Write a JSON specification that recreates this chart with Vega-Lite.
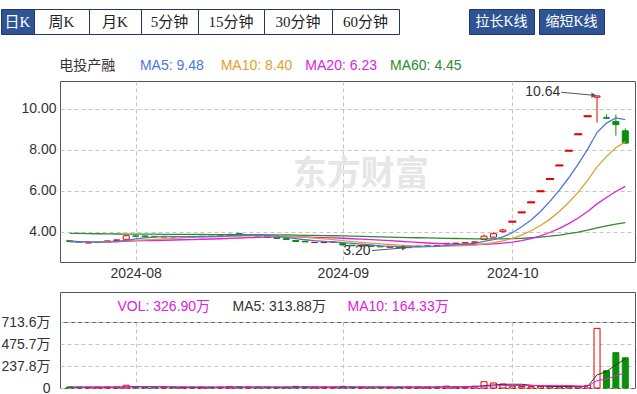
{
"$schema": "https://vega.github.io/schema/vega-lite/v6.json",
"padding": {"left": 0, "top": 8, "right": 0, "bottom": 0},
"background": "white",
"config": {
  "font": "Liberation Sans, Noto Sans CJK SC",
  "view": {"stroke": null},
  "axis": {"domain": false, "ticks": false, "labelFontSize": 14, "labelColor": "#333333", "labelFont": "Liberation Sans, Noto Sans CJK SC", "gridColor": "#c4c4c4", "gridDash": [4, 3], "gridWidth": 1, "labelOverlap": false},
  "concat": {"spacing": 0}
},
"datasets": {
"k": [
{"i":0,"o":3.56,"h":3.58,"l":3.50,"c":3.52,"v":12,"m5":3.52,"m10":3.52,"m20":3.52,"m60":3.92,"vm5":10.4,"vm10":10.2},
{"i":1,"o":3.49,"h":3.50,"l":3.47,"c":3.48,"v":9,"m5":3.512,"m10":3.516,"m20":3.518,"m60":3.912,"vm5":10.2,"vm10":10.1},
{"i":2,"o":3.45,"h":3.47,"l":3.44,"c":3.46,"v":8,"m5":3.50,"m10":3.51,"m20":3.515,"m60":3.905,"vm5":9.8,"vm10":9.9},
{"i":3,"o":3.47,"h":3.50,"l":3.46,"c":3.49,"v":9,"m5":3.494,"m10":3.507,"m20":3.514,"m60":3.897,"vm5":9.6,"vm10":9.8},
{"i":4,"o":3.50,"h":3.56,"l":3.49,"c":3.55,"v":10,"m5":3.50,"m10":3.51,"m20":3.515,"m60":3.891,"vm5":9.6,"vm10":9.8},
{"i":5,"o":3.56,"h":3.62,"l":3.54,"c":3.60,"v":11,"m5":3.516,"m10":3.518,"m20":3.519,"m60":3.886,"vm5":9.4,"vm10":9.9},
{"i":6,"o":3.63,"h":3.84,"l":3.62,"c":3.80,"v":30,"m5":3.58,"m10":3.546,"m20":3.533,"m60":3.883,"vm5":13.6,"vm10":11.9},
{"i":7,"o":3.79,"h":3.82,"l":3.75,"c":3.78,"v":14,"m5":3.644,"m10":3.572,"m20":3.546,"m60":3.881,"vm5":14.8,"vm10":12.3},
{"i":8,"o":3.79,"h":3.80,"l":3.74,"c":3.76,"v":10,"m5":3.698,"m10":3.596,"m20":3.558,"m60":3.878,"vm5":15,"vm10":12.3},
{"i":9,"o":3.77,"h":3.78,"l":3.73,"c":3.75,"v":9,"m5":3.738,"m10":3.619,"m20":3.570,"m60":3.875,"vm5":14.8,"vm10":12.2},
{"i":10,"o":3.74,"h":3.77,"l":3.73,"c":3.76,"v":8,"m5":3.77,"m10":3.643,"m20":3.582,"m60":3.872,"vm5":14.2,"vm10":11.8},
{"i":11,"o":3.77,"h":3.78,"l":3.73,"c":3.74,"v":9,"m5":3.758,"m10":3.669,"m20":3.593,"m60":3.869,"vm5":10,"vm10":11.8},
{"i":12,"o":3.74,"h":3.77,"l":3.73,"c":3.76,"v":8,"m5":3.754,"m10":3.699,"m20":3.605,"m60":3.866,"vm5":8.8,"vm10":11.8},
{"i":13,"o":3.77,"h":3.78,"l":3.74,"c":3.75,"v":8,"m5":3.752,"m10":3.725,"m20":3.616,"m60":3.863,"vm5":8.4,"vm10":11.7},
{"i":14,"o":3.75,"h":3.78,"l":3.74,"c":3.77,"v":9,"m5":3.756,"m10":3.747,"m20":3.629,"m60":3.861,"vm5":8.4,"vm10":11.6},
{"i":15,"o":3.78,"h":3.79,"l":3.75,"c":3.76,"v":8,"m5":3.756,"m10":3.763,"m20":3.641,"m60":3.858,"vm5":8.4,"vm10":11.3},
{"i":16,"o":3.76,"h":3.81,"l":3.75,"c":3.80,"v":10,"m5":3.768,"m10":3.763,"m20":3.655,"m60":3.856,"vm5":8.6,"vm10":9.3},
{"i":17,"o":3.81,"h":3.90,"l":3.80,"c":3.87,"v":14,"m5":3.79,"m10":3.772,"m20":3.672,"m60":3.855,"vm5":9.8,"vm10":9.3},
{"i":18,"o":3.91,"h":3.93,"l":3.86,"c":3.88,"v":12,"m5":3.816,"m10":3.784,"m20":3.69,"m60":3.854,"vm5":10.6,"vm10":9.5},
{"i":19,"o":3.82,"h":3.86,"l":3.81,"c":3.84,"v":10,"m5":3.83,"m10":3.793,"m20":3.706,"m60":3.852,"vm5":10.8,"vm10":9.6},
{"i":20,"o":3.83,"h":3.84,"l":3.77,"c":3.78,"v":9,"m5":3.834,"m10":3.795,"m20":3.719,"m60":3.850,"vm5":11,"vm10":9.7},
{"i":21,"o":3.77,"h":3.78,"l":3.71,"c":3.72,"v":9,"m5":3.818,"m10":3.793,"m20":3.731,"m60":3.846,"vm5":10.8,"vm10":9.7},
{"i":22,"o":3.71,"h":3.72,"l":3.66,"c":3.67,"v":8,"m5":3.778,"m10":3.784,"m20":3.742,"m60":3.842,"vm5":9.6,"vm10":9.7},
{"i":23,"o":3.66,"h":3.67,"l":3.61,"c":3.62,"v":9,"m5":3.726,"m10":3.771,"m20":3.748,"m60":3.837,"vm5":9,"vm10":9.8},
{"i":24,"o":3.57,"h":3.58,"l":3.51,"c":3.52,"v":18,"m5":3.662,"m10":3.746,"m20":3.747,"m60":3.830,"vm5":10.6,"vm10":10.7},
{"i":25,"o":3.53,"h":3.54,"l":3.49,"c":3.50,"v":12,"m5":3.606,"m10":3.72,"m20":3.742,"m60":3.823,"vm5":11.2,"vm10":11.1},
{"i":26,"o":3.47,"h":3.50,"l":3.46,"c":3.48,"v":9,"m5":3.558,"m10":3.688,"m20":3.726,"m60":3.815,"vm5":11.2,"vm10":11},
{"i":27,"o":3.47,"h":3.50,"l":3.46,"c":3.49,"v":8,"m5":3.522,"m10":3.65,"m20":3.711,"m60":3.808,"vm5":11.2,"vm10":10.4},
{"i":28,"o":3.48,"h":3.51,"l":3.46,"c":3.49,"v":8,"m5":3.496,"m10":3.611,"m20":3.698,"m60":3.801,"vm5":11,"vm10":10},
{"i":29,"o":3.42,"h":3.43,"l":3.34,"c":3.35,"v":18,"m5":3.462,"m10":3.562,"m20":3.678,"m60":3.791,"vm5":11,"vm10":10.8},
{"i":30,"o":3.34,"h":3.35,"l":3.30,"c":3.31,"v":10,"m5":3.424,"m10":3.515,"m20":3.655,"m60":3.781,"vm5":10.6,"vm10":10.9},
{"i":31,"o":3.30,"h":3.34,"l":3.29,"c":3.32,"v":9,"m5":3.392,"m10":3.475,"m20":3.634,"m60":3.770,"vm5":10.6,"vm10":10.9},
{"i":32,"o":3.31,"h":3.32,"l":3.27,"c":3.28,"v":8,"m5":3.35,"m10":3.436,"m20":3.61,"m60":3.760,"vm5":10.6,"vm10":10.9},
{"i":33,"o":3.28,"h":3.29,"l":3.25,"c":3.26,"v":9,"m5":3.304,"m10":3.40,"m20":3.586,"m60":3.748,"vm5":10.8,"vm10":10.9},
{"i":34,"o":3.24,"h":3.28,"l":3.23,"c":3.26,"v":10,"m5":3.286,"m10":3.374,"m20":3.56,"m60":3.737,"vm5":9.2,"vm10":10.1},
{"i":35,"o":3.26,"h":3.27,"l":3.21,"c":3.22,"v":11,"m5":3.268,"m10":3.346,"m20":3.533,"m60":3.725,"vm5":9.4,"vm10":10},
{"i":36,"o":3.22,"h":3.26,"l":3.20,"c":3.24,"v":12,"m5":3.252,"m10":3.322,"m20":3.505,"m60":3.714,"vm5":10,"vm10":10.3},
{"i":37,"o":3.27,"h":3.31,"l":3.26,"c":3.30,"v":10,"m5":3.256,"m10":3.303,"m20":3.477,"m60":3.703,"vm5":10.4,"vm10":10.5},
{"i":38,"o":3.29,"h":3.32,"l":3.28,"c":3.31,"v":9,"m5":3.266,"m10":3.285,"m20":3.448,"m60":3.693,"vm5":10.4,"vm10":10.6},
{"i":39,"o":3.30,"h":3.33,"l":3.29,"c":3.32,"v":10,"m5":3.278,"m10":3.282,"m20":3.422,"m60":3.683,"vm5":10.4,"vm10":9.8},
{"i":40,"o":3.40,"h":3.44,"l":3.39,"c":3.43,"v":20,"m5":3.32,"m10":3.294,"m20":3.405,"m60":3.675,"vm5":12.2,"vm10":10.8},
{"i":41,"o":3.42,"h":3.45,"l":3.41,"c":3.44,"v":10,"m5":3.36,"m10":3.306,"m20":3.391,"m60":3.666,"vm5":11.8,"vm10":10.9},
{"i":42,"o":3.44,"h":3.47,"l":3.43,"c":3.46,"v":12,"m5":3.392,"m10":3.324,"m20":3.38,"m60":3.659,"vm5":12.2,"vm10":11.3},
{"i":43,"o":3.48,"h":3.52,"l":3.47,"c":3.50,"v":20,"m5":3.43,"m10":3.348,"m20":3.374,"m60":3.651,"vm5":14.4,"vm10":12.4},
{"i":44,"o":3.62,"h":3.86,"l":3.61,"c":3.78,"v":68,"m5":3.522,"m10":3.40,"m20":3.387,"m60":3.649,"vm5":26,"vm10":18.2},
{"i":45,"o":3.73,"h":3.97,"l":3.72,"c":3.90,"v":54,"m5":3.616,"m10":3.468,"m20":3.407,"m60":3.648,"vm5":32.8,"vm10":22.5},
{"i":46,"o":4.00,"h":4.14,"l":3.96,"c":4.08,"v":43,"m5":3.744,"m10":3.552,"m20":3.437,"m60":3.651,"vm5":39.4,"vm10":25.6},
{"i":47,"o":4.49,"h":4.49,"l":4.49,"c":4.49,"v":20,"m5":3.95,"m10":3.671,"m20":3.487,"m60":3.660,"vm5":41,"vm10":26.6},
{"i":48,"o":4.94,"h":4.94,"l":4.94,"c":4.94,"v":16,"m5":4.238,"m10":3.834,"m20":3.56,"m60":3.677,"vm5":40.2,"vm10":27.3},
{"i":49,"o":5.43,"h":5.43,"l":5.43,"c":5.43,"v":15,"m5":4.568,"m10":4.045,"m20":3.664,"m60":3.702,"vm5":29.6,"vm10":27.8},
{"i":50,"o":5.97,"h":5.97,"l":5.97,"c":5.97,"v":18,"m5":4.982,"m10":4.299,"m20":3.797,"m60":3.736,"vm5":22.4,"vm10":27.6},
{"i":51,"o":6.57,"h":6.57,"l":6.57,"c":6.57,"v":15,"m5":5.48,"m10":4.612,"m20":3.959,"m60":3.78,"vm5":16.8,"vm10":28.1},
{"i":52,"o":7.23,"h":7.23,"l":7.23,"c":7.23,"v":14,"m5":6.028,"m10":4.989,"m20":4.157,"m60":3.835,"vm5":15.6,"vm10":28.3},
{"i":53,"o":7.95,"h":7.95,"l":7.95,"c":7.95,"v":14,"m5":6.63,"m10":5.434,"m20":4.391,"m60":3.902,"vm5":15.2,"vm10":27.7},
{"i":54,"o":8.75,"h":8.75,"l":8.75,"c":8.75,"v":13,"m5":7.294,"m10":5.931,"m20":4.666,"m60":3.982,"vm5":14.8,"vm10":22.2},
{"i":55,"o":9.63,"h":9.63,"l":9.63,"c":9.63,"v":28,"m5":8.026,"m10":6.504,"m20":4.986,"m60":4.077,"vm5":16.8,"vm10":19.6},
{"i":56,"o":10.56,"h":10.64,"l":9.32,"c":10.62,"v":645,"m5":8.836,"m10":7.158,"m20":5.355,"m60":4.189,"vm5":142.8,"vm10":79.8},
{"i":57,"o":9.56,"h":9.72,"l":9.52,"c":9.53,"v":187,"m5":9.296,"m10":7.662,"m20":5.667,"m60":4.282,"vm5":177.4,"vm10":96.5},
{"i":58,"o":9.37,"h":9.71,"l":8.68,"c":9.22,"v":382,"m5":9.55,"m10":8.09,"m20":5.962,"m60":4.370,"vm5":251,"vm10":133.1},
{"i":59,"o":8.92,"h":9.04,"l":8.30,"c":8.32,"v":327,"m5":9.464,"m10":8.379,"m20":6.212,"m60":4.444,"vm5":313.8,"vm10":164.3}
]
},
"spacing": 16,
"resolve": {"scale": {"x": "independent", "y": "independent"}},
"vconcat": [
  {"hconcat": [
    {"width": 33, "height": 25, "view": {"fill": "#2f5496", "stroke": "#1f3864"}, "data": {"values": [{"t": "日K"}]}, "mark": {"type": "text", "fontSize": 15, "font": "Liberation Serif, Noto Sans CJK SC", "color": "#ffffff"}, "encoding": {"text": {"field": "t"}}},
    {"width": 55, "height": 25, "view": {"fill": "#ffffff", "stroke": "#1f3864"}, "data": {"values": [{"t": "周K"}]}, "mark": {"type": "text", "fontSize": 15, "font": "Liberation Serif, Noto Sans CJK SC", "color": "#222222"}, "encoding": {"text": {"field": "t"}}},
    {"width": 52, "height": 25, "view": {"fill": "#ffffff", "stroke": "#1f3864"}, "data": {"values": [{"t": "月K"}]}, "mark": {"type": "text", "fontSize": 15, "font": "Liberation Serif, Noto Sans CJK SC", "color": "#222222"}, "encoding": {"text": {"field": "t"}}},
    {"width": 57, "height": 25, "view": {"fill": "#ffffff", "stroke": "#1f3864"}, "data": {"values": [{"t": "5分钟"}]}, "mark": {"type": "text", "fontSize": 15, "font": "Liberation Serif, Noto Sans CJK SC", "color": "#222222"}, "encoding": {"text": {"field": "t"}}},
    {"width": 66, "height": 25, "view": {"fill": "#ffffff", "stroke": "#1f3864"}, "data": {"values": [{"t": "15分钟"}]}, "mark": {"type": "text", "fontSize": 15, "font": "Liberation Serif, Noto Sans CJK SC", "color": "#222222"}, "encoding": {"text": {"field": "t"}}},
    {"width": 68, "height": 25, "view": {"fill": "#ffffff", "stroke": "#1f3864"}, "data": {"values": [{"t": "30分钟"}]}, "mark": {"type": "text", "fontSize": 15, "font": "Liberation Serif, Noto Sans CJK SC", "color": "#222222"}, "encoding": {"text": {"field": "t"}}},
    {"width": 67, "height": 25, "view": {"fill": "#ffffff", "stroke": "#1f3864"}, "data": {"values": [{"t": "60分钟"}]}, "mark": {"type": "text", "fontSize": 15, "font": "Liberation Serif, Noto Sans CJK SC", "color": "#222222"}, "encoding": {"text": {"field": "t"}}},
    {"width": 70, "height": 25, "data": {"values": []}, "mark": "point"},
    {"width": 65, "height": 25, "view": {"fill": "#2f5496", "stroke": "#1f3864"}, "data": {"values": [{"t": "拉长K线"}]}, "mark": {"type": "text", "fontSize": 14, "font": "Liberation Serif, Noto Sans CJK SC", "color": "#ffffff"}, "encoding": {"text": {"field": "t"}}},
    {"width": 5, "height": 25, "data": {"values": []}, "mark": "point"},
    {"width": 65, "height": 25, "view": {"fill": "#2f5496", "stroke": "#1f3864"}, "data": {"values": [{"t": "缩短K线"}]}, "mark": {"type": "text", "fontSize": 14, "font": "Liberation Serif, Noto Sans CJK SC", "color": "#ffffff"}, "encoding": {"text": {"field": "t"}}}
  ], "spacing": 0, "bounds": "flush"},
  {"hconcat": [
    {"width": 1, "height": 1, "data": {"values": []}, "mark": "point"},
    {"vconcat": [
      {"width": 393, "height": 30,
       "data": {"values": [{"k": "name", "t": "电投产融"}, {"k": "MA5", "t": "MA5: 9.48"}, {"k": "MA10", "t": "MA10: 8.40"}, {"k": "MA20", "t": "MA20: 6.23"}, {"k": "MA60", "t": "MA60: 4.45"}]},
       "mark": {"type": "text", "align": "center", "fontSize": 14},
       "encoding": {
         "x": {"field": "k", "type": "nominal", "scale": {"type": "point", "domain": ["name", "MA5", "MA10", "MA20", "MA60"], "padding": 0.321}, "axis": null},
         "text": {"field": "t"},
         "color": {"condition": [{"test": "datum.k == 'MA5'", "value": "#4a78d8"}, {"test": "datum.k == 'MA10'", "value": "#dfa033"}, {"test": "datum.k == 'MA20'", "value": "#e020e0"}, {"test": "datum.k == 'MA60'", "value": "#2e8b2e"}], "value": "#333333"}
       }},
      {"width": 575, "height": 181,
       "view": {"stroke": "#555555"},
       "data": {"name": "k"},
       "layer": [
         {"data": {"values": [{}]}, "mark": {"type": "text", "fontSize": 34, "fontWeight": "bold", "color": "#e6e6e6", "font": "Noto Sans CJK SC"}, "encoding": {"x": {"datum": 30.9, "type": "quantitative", "title": null}, "y": {"datum": 6.77, "type": "quantitative", "title": null}, "text": {"value": "东方财富"}}},
         {"mark": {"type": "rule", "strokeWidth": 1}, "encoding": {
           "x": {"field": "i", "type": "quantitative", "scale": {"domain": [-0.5, 59.5], "nice": false, "zero": false}, "axis": {"values": [7, 29, 47], "tickCount": 10, "labelExpr": "datum.value == 7 ? '2024-08' : datum.value == 29 ? '2024-09' : '2024-10'", "grid": true, "labelPadding": 4, "title": null}},
           "y": {"field": "l", "type": "quantitative", "scale": {"domain": [2.52, 11.35], "nice": false, "zero": false}, "axis": {"values": [4, 6, 8, 10], "tickCount": 10, "format": ".2f", "grid": true, "labelPadding": 4, "title": null}},
           "y2": {"field": "h"},
           "color": {"condition": {"test": "datum.c >= datum.o", "value": "#e60000"}, "value": "#0a8f08"}}},
         {"mark": {"type": "bar", "width": 6, "strokeWidth": 1}, "encoding": {
           "x": {"field": "i", "type": "quantitative", "title": null},
           "y": {"field": "o", "type": "quantitative", "title": null},
           "y2": {"field": "c"},
           "fill": {"condition": {"test": "datum.c >= datum.o", "value": "#ffffff"}, "value": "#0a8f08"},
           "stroke": {"condition": {"test": "datum.c >= datum.o", "value": "#e60000"}, "value": "#0a8f08"}}},
         {"transform": [{"filter": "datum.o == datum.c"}], "mark": {"type": "point", "shape": "stroke", "size": 64, "strokeWidth": 2, "color": "#e60000", "filled": false, "opacity": 1}, "encoding": {"x": {"field": "i", "type": "quantitative", "title": null}, "y": {"field": "c", "type": "quantitative", "title": null}}},
         {"mark": {"type": "line", "color": "#2e8b2e", "strokeWidth": 1.3}, "encoding": {"x": {"field": "i", "type": "quantitative", "title": null}, "y": {"field": "m60", "type": "quantitative", "title": null}}},
         {"mark": {"type": "line", "color": "#e020e0", "strokeWidth": 1.3}, "encoding": {"x": {"field": "i", "type": "quantitative", "title": null}, "y": {"field": "m20", "type": "quantitative", "title": null}}},
         {"mark": {"type": "line", "color": "#dfa033", "strokeWidth": 1.3}, "encoding": {"x": {"field": "i", "type": "quantitative", "title": null}, "y": {"field": "m10", "type": "quantitative", "title": null}}},
         {"mark": {"type": "line", "color": "#4a78d8", "strokeWidth": 1.3}, "encoding": {"x": {"field": "i", "type": "quantitative", "title": null}, "y": {"field": "m5", "type": "quantitative", "title": null}}},
         {"data": {"values": [{}]}, "mark": {"type": "text", "align": "right", "fontSize": 14, "color": "#333333"}, "encoding": {"x": {"datum": 52.1, "type": "quantitative", "title": null}, "y": {"datum": 10.81, "type": "quantitative", "title": null}, "text": {"value": "10.64"}}},
         {"data": {"values": [{}]}, "mark": {"type": "rule", "color": "#555555", "strokeWidth": 1}, "encoding": {"x": {"datum": 52.2, "type": "quantitative", "title": null}, "y": {"datum": 10.80, "type": "quantitative", "title": null}, "x2": {"datum": 55.7}, "y2": {"datum": 10.65}}},
         {"data": {"values": [{}]}, "mark": {"type": "point", "shape": "triangle-right", "size": 30, "filled": true, "color": "#555555", "opacity": 1}, "encoding": {"x": {"datum": 55.65, "type": "quantitative", "title": null}, "y": {"datum": 10.65, "type": "quantitative", "title": null}}},
         {"data": {"values": [{}]}, "mark": {"type": "text", "align": "right", "fontSize": 14, "color": "#333333"}, "encoding": {"x": {"datum": 31.95, "type": "quantitative", "title": null}, "y": {"datum": 3.08, "type": "quantitative", "title": null}, "text": {"value": "3.20"}}},
         {"data": {"values": [{}]}, "mark": {"type": "rule", "color": "#555555", "strokeWidth": 1}, "encoding": {"x": {"datum": 32.1, "type": "quantitative", "title": null}, "y": {"datum": 3.08, "type": "quantitative", "title": null}, "x2": {"datum": 35.6}, "y2": {"datum": 3.21}}},
         {"data": {"values": [{}]}, "mark": {"type": "point", "shape": "triangle-right", "size": 30, "filled": true, "color": "#555555", "opacity": 1}, "encoding": {"x": {"datum": 35.55, "type": "quantitative", "title": null}, "y": {"datum": 3.21, "type": "quantitative", "title": null}}}
       ]},
      {"width": 1, "height": 30, "data": {"values": []}, "mark": "point"},
      {"width": 575, "height": 30,
       "view": {"stroke": "#555555"},
       "data": {"values": [{"k": "VOL", "t": "VOL: 326.90万"}, {"k": "MA5", "t": "MA5: 313.88万"}, {"k": "MA10", "t": "MA10: 164.33万"}]},
       "mark": {"type": "text", "align": "left", "fontSize": 14},
       "encoding": {
         "x": {"field": "k", "type": "nominal", "scale": {"domain": ["VOL", "MA5", "MA10", "a", "b"], "paddingInner": 0, "paddingOuter": 0.0785}, "axis": null, "bandPosition": 0},
         "text": {"field": "t"},
         "color": {"condition": {"test": "datum.k == 'MA5'", "value": "#333333"}, "value": "#e020e0"}
       }},
      {"width": 575, "height": 66,
       "view": {"stroke": "#555555"},
       "data": {"name": "k"},
       "layer": [
         {"mark": {"type": "bar", "width": 6, "strokeWidth": 1}, "encoding": {
           "x": {"field": "i", "type": "quantitative", "scale": {"domain": [-0.5, 59.5], "nice": false, "zero": false}, "axis": {"values": [7, 29, 47], "tickCount": 10, "labels": false, "grid": true, "title": null}},
           "y": {"field": "v", "type": "quantitative", "scale": {"domain": [0, 713.6], "nice": false, "zero": true}, "axis": {"values": [0, 237.8, 475.7, 713.6], "tickCount": 10, "labelExpr": "datum.value == 0 ? '0' : format(datum.value, '.1f') + '万'", "grid": true, "labelPadding": 10, "labelOverlap": false, "title": null}},
           "fill": {"condition": {"test": "datum.c >= datum.o", "value": "#ffffff"}, "value": "#0a8f08"},
           "stroke": {"condition": {"test": "datum.c >= datum.o", "value": "#e60000"}, "value": "#0a8f08"}}},
         {"mark": {"type": "line", "color": "#333333", "strokeWidth": 1}, "encoding": {"x": {"field": "i", "type": "quantitative", "title": null}, "y": {"field": "vm5", "type": "quantitative", "title": null}}},
         {"mark": {"type": "line", "color": "#e020e0", "strokeWidth": 1}, "encoding": {"x": {"field": "i", "type": "quantitative", "title": null}, "y": {"field": "vm10", "type": "quantitative", "title": null}}}
       ]}
    ], "spacing": 0, "bounds": "flush", "resolve": {"scale": {"x": "independent", "y": "independent"}}}
  ], "spacing": 58, "bounds": "flush", "resolve": {"scale": {"x": "independent", "y": "independent"}}}
]
}
